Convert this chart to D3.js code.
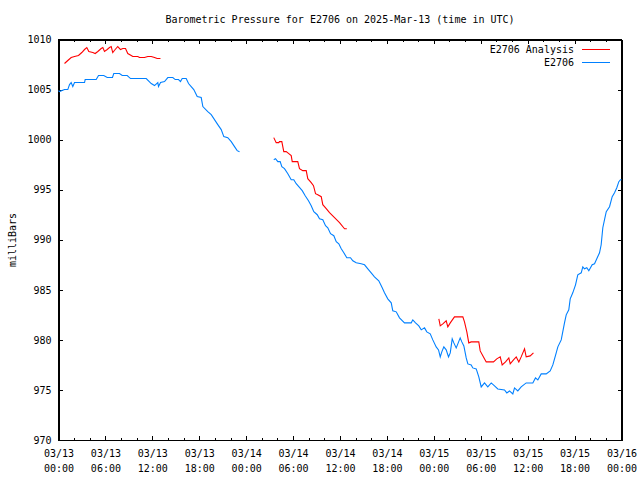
<!DOCTYPE html>
<html><head><meta charset="utf-8">
<script src="https://cdn.jsdelivr.net/npm/d3@7"></script>
<style>
body{margin:0;background:#fff}
text{font-family:"DejaVu Sans Mono","Liberation Mono",monospace;font-size:10px;fill:#000}
</style>
</head><body><svg id="c" width="640" height="480"></svg>
<script>
const chartTitle = "Barometric Pressure for E2706 on 2025-Mar-13 (time in UTC)";
const yAxisLabel = "milliBars";
const seriesNames = ["E2706 Analysis", "E2706"];
const seriesColors = ["#ff0000", "#0080ff"];
const yTicks = [970, 975, 980, 985, 990, 995, 1000, 1005, 1010];
const xTickHours = [0, 6, 12, 18, 24, 30, 36, 42, 48, 54, 60, 66, 72];
const xMinorHours = [2,4,8,10,14,16,20,22,26,28,32,34,38,40,44,46,50,52,56,58,62,64,68,70];
const xTickDays = ["03/13","03/13","03/13","03/13","03/14","03/14","03/14","03/14","03/15","03/15","03/15","03/15","03/16"];
const xTickTimes = ["00:00","06:00","12:00","18:00","00:00","06:00","12:00","18:00","00:00","06:00","12:00","18:00","00:00"];

// hours since 2025-03-13 00:00 UTC ; null = gap
const analysisHours = [0.77,1.19,1.62,2.05,2.56,2.98,3.33,3.62,3.88,4.39,4.69,5.03,5.46,5.67,5.88,6.23,6.52,6.74,6.94,7.25,7.58,7.93,8.22,8.57,8.86,9.30,9.50,10.14,10.36,11.00,11.42,11.86,12.28,12.62,13.04,
 20,
 27.53,27.84,28.17,28.26,28.56,28.81,29.12,29.45,29.76,29.89,30.60,30.82,31.24,31.68,31.88,32.32,32.61,32.87,33.16,33.60,33.80,34.24,34.66,35.30,35.94,36.58,36.87,
 42,
 48.64,48.82,49.15,49.58,49.79,50.10,50.64,51.28,51.71,51.92,52.22,52.47,52.78,53.75,53.93,54.35,54.70,55.63,56.05,56.49,56.74,57.17,57.59,57.77,58.19,58.54,58.87,59.17,59.60,59.81,60.32,60.74];
const analysisValues = [1007.6,1007.9,1008.2,1008.3,1008.4,1008.7,1009.0,1009.2,1008.8,1008.7,1008.6,1008.8,1009.1,1009.2,1008.8,1009.0,1009.2,1009.3,1008.7,1009.0,1009.3,1009.0,1009.1,1009.1,1008.6,1008.4,1008.3,1008.3,1008.2,1008.2,1008.3,1008.3,1008.2,1008.1,1008.1,
 null,
 1000.2,999.7,999.7,999.8,999.8,998.8,998.8,998.6,998.4,997.8,997.8,997.1,996.9,996.9,996.1,995.7,995.4,994.6,994.5,994.3,993.5,993.1,992.7,992.2,991.7,991.1,991.1,
 null,
 982.1,981.4,981.6,981.9,981.3,981.7,982.3,982.3,982.3,981.8,980.8,979.7,979.8,979.8,978.9,978.3,977.8,977.8,978.1,978.3,977.5,977.8,978.2,977.6,978.0,978.3,977.8,978.3,979.1,978.3,978.4,978.7];

const obsHours = [0.0,0.13,0.77,1.19,1.41,1.62,1.83,2.05,3.33,3.41,4.82,5.12,5.79,6.23,6.90,7.07,7.80,8.15,8.79,9.21,11.22,11.86,12.28,12.70,12.79,13.05,13.56,13.98,14.62,14.93,15.35,15.60,15.82,16.33,16.63,16.97,17.30,17.74,18.25,18.46,19.09,19.53,20.37,20.81,21.14,21.65,22.09,22.51,22.85,23.15,
 25,
 27.53,27.75,28.05,28.35,28.56,28.90,29.33,29.76,30.09,30.40,30.73,31.17,31.55,31.97,32.32,32.65,33.09,33.38,33.80,34.15,34.44,34.79,35.21,35.52,35.85,36.16,36.49,36.87,37.34,37.64,38.07,38.71,39.14,39.56,39.99,40.41,40.96,41.40,41.69,42.11,42.55,42.75,43.19,43.61,44.25,45.11,45.31,45.66,46.08,46.39,46.81,47.10,47.54,47.87,48.30,48.60,48.82,49.02,49.28,49.58,49.88,50.10,50.35,50.56,50.86,51.07,51.37,51.58,51.84,52.14,52.35,52.78,52.98,53.42,53.75,54.06,54.48,54.90,55.34,55.76,56.18,57.04,57.33,57.68,58.10,58.32,58.74,59.17,59.81,60.66,61.00,61.30,61.73,62.37,62.88,63.22,63.65,63.86,64.29,64.71,64.93,65.26,65.44,65.77,66.12,66.41,66.85,67.05,67.27,67.56,67.82,68.25,68.55,68.84,69.19,69.40,69.61,69.83,70.05,70.47,70.81,71.11,71.40,71.66,71.87,72.0];
const obsValues = [1004.9,1004.8,1005.0,1005.0,1005.5,1005.7,1005.3,1005.7,1005.7,1006.0,1006.0,1006.4,1006.4,1006.2,1006.2,1006.6,1006.6,1006.4,1006.4,1006.1,1006.1,1005.6,1005.4,1005.7,1005.3,1005.7,1005.8,1006.2,1006.2,1006.0,1006.0,1005.8,1006.1,1006.1,1005.6,1005.3,1005.0,1004.3,1004.2,1003.3,1002.8,1002.5,1001.5,1001.0,1000.3,1000.2,999.8,999.3,998.9,998.8,
 null,
 998.0,998.1,997.8,997.8,997.3,997.1,996.6,996.0,996.0,995.6,995.3,994.9,994.4,993.9,993.4,992.8,992.5,992.1,992.0,991.4,991.2,990.6,990.4,989.8,989.6,989.1,988.7,988.2,988.2,987.9,987.7,987.6,987.5,987.1,986.7,986.3,985.9,985.2,984.7,984.1,983.7,982.9,982.8,982.2,981.7,981.7,982.0,981.7,981.4,981.0,981.2,980.8,980.6,980.0,979.3,979.0,978.3,978.8,979.3,979.0,978.3,978.7,980.1,979.7,979.2,979.6,980.2,979.8,979.4,978.2,977.6,977.5,977.2,977.1,976.3,975.3,975.7,975.3,975.7,975.4,975.1,975.0,974.7,974.9,974.6,975.2,974.9,975.3,975.7,975.7,976.2,976.0,976.6,976.6,976.9,977.5,978.7,979.3,980.0,981.7,982.5,983.0,984.1,984.7,985.5,986.5,986.7,987.3,987.1,987.2,986.9,987.5,987.6,988.1,988.7,989.5,991.2,992.0,992.8,993.3,994.3,994.7,995.2,995.8,996.0,996.0];

const baseMs = Date.UTC(2025, 2, 13, 0, 0);
const toDate = h => new Date(baseMs + h * 3600e3);

const svg = d3.select("#c");
svg.append("rect").attr("width", 640).attr("height", 480).attr("fill", "#fff");

const L = 58.5, R = 621.5, T = 39.5, B = 440;
const x = d3.scaleUtc().domain([toDate(0), toDate(72)]).range([L, R]);
const y = d3.scaleLinear().domain([970, 1010]).range([B, T]);

const axisStyle = g => { g.selectAll("path,line").attr("stroke", "#000").attr("shape-rendering", "crispEdges"); };

// minor x ticks bottom/top
svg.append("g").attr("transform", `translate(0,${B})`)
  .call(d3.axisBottom(x).tickValues(xMinorHours.map(toDate)).tickSize(-2).tickSizeOuter(0).tickFormat(""))
  .call(axisStyle);
svg.append("g").attr("transform", `translate(0,${T})`)
  .call(d3.axisTop(x).tickValues(xMinorHours.map(toDate)).tickSize(-2).tickSizeOuter(0).tickFormat(""))
  .call(axisStyle);

// major x bottom
const gx = svg.append("g").attr("transform", `translate(0,${B})`)
  .call(d3.axisBottom(x).tickValues(xTickHours.map(toDate)).tickSize(-4).tickSizeOuter(0).tickPadding(9.5).tickFormat((d, i) => xTickDays[i]))
  .call(axisStyle);
gx.selectAll(".tick text").each(function(d, i) {
  const t = d3.select(this);
  t.text(null).attr("font-family", null).attr("font-size", null);
  t.append("tspan").attr("x", 0).text(xTickDays[i]);
  t.append("tspan").attr("x", 0).attr("dy", 15.5).text(xTickTimes[i]);
});
gx.attr("font-family", null).attr("font-size", null);

// major x top
svg.append("g").attr("transform", `translate(0,${T})`)
  .call(d3.axisTop(x).tickValues(xTickHours.map(toDate)).tickSize(-4).tickSizeOuter(0).tickFormat(""))
  .call(axisStyle);

// y left and right
const gy = svg.append("g").attr("transform", `translate(${L},0)`)
  .call(d3.axisLeft(y).tickValues(yTicks).tickSize(-4).tickSizeOuter(0).tickPadding(7).tickFormat(d3.format("d")))
  .call(axisStyle);
gy.attr("font-family", null).attr("font-size", null);
svg.append("g").attr("transform", `translate(${R},0)`)
  .call(d3.axisRight(y).tickValues(yTicks).tickSize(-4).tickSizeOuter(0).tickFormat(""))
  .call(axisStyle);

// border
svg.append("rect").attr("x", L).attr("y", T).attr("width", R - L).attr("height", B - T)
  .attr("fill", "none").attr("stroke", "#000").attr("shape-rendering", "crispEdges");

// series
const line = d3.line().defined(d => d.v != null).x(d => x(toDate(d.h))).y(d => y(d.v));
const series = [
  analysisHours.map((h, i) => ({h, v: analysisValues[i]})),
  obsHours.map((h, i) => ({h, v: obsValues[i]}))
];
series.forEach((s, k) => {
  svg.append("path").datum(s).attr("d", line).attr("fill", "none")
    .attr("stroke", seriesColors[k]).attr("stroke-width", 1.1);
});

// title and labels
svg.append("text").attr("x", (L + R) / 2).attr("y", 22.5).attr("text-anchor", "middle").text(chartTitle);
svg.append("text").attr("transform", "translate(16,240) rotate(-90)").attr("text-anchor", "middle").text(yAxisLabel);

// legend
seriesNames.forEach((n, k) => {
  const cy = 49.5 + k * 13;
  svg.append("text").attr("x", 574).attr("y", cy + 3.5).attr("text-anchor", "end").text(n);
  svg.append("line").attr("x1", 582).attr("x2", 610).attr("y1", cy).attr("y2", cy)
    .attr("stroke", seriesColors[k]).attr("stroke-width", 1).attr("shape-rendering", "crispEdges");
});
</script>
</body></html>
